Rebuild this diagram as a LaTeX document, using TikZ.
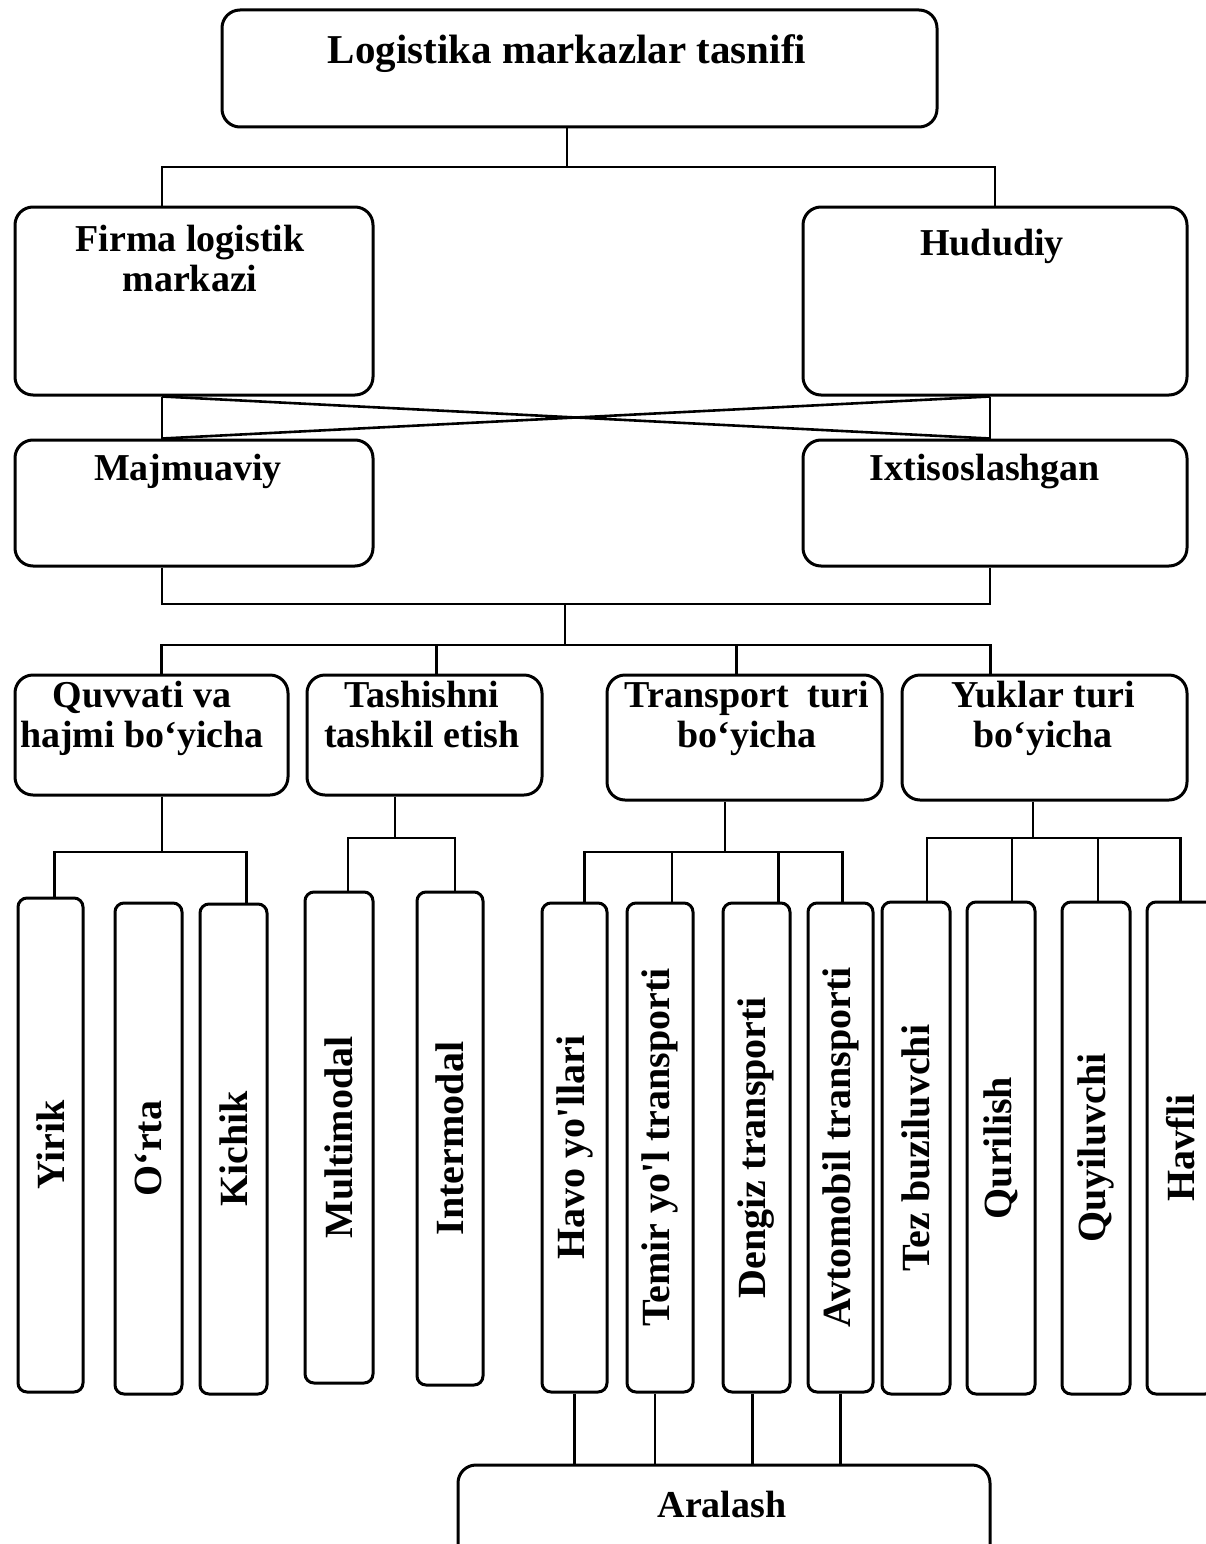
\documentclass[tikz,border=0pt]{standalone}
\usepackage{fontspec}
\setmainfont{Liberation Serif}
\usepackage{tikz}

\begin{document}
\begin{tikzpicture}[x=1pt,y=-1pt,
    box/.style={draw,line width=3pt,rounded corners=18pt,inner sep=0pt},
    col/.style={draw,line width=3pt,rounded corners=9pt,inner sep=0pt},
    txt/.style={font=\bfseries\fontsize{38}{40}\selectfont,align=center,anchor=base,inner sep=0pt},
    vtxt/.style={font=\bfseries\fontsize{40}{44}\selectfont,rotate=90,inner sep=0pt},
    link/.style={line width=2.6pt}]
    \useasboundingbox (0,0) rectangle (1206,1544);
    % katta bloklar
    \node[box,minimum width=715,minimum height=117] (top) at (579.5,68.5) {};
    \node[box,minimum width=358,minimum height=188] (firma) at (194,301) {};
    \node[box,minimum width=384,minimum height=188] (hudud) at (995,301) {};
    \node[box,minimum width=358,minimum height=126] (majm) at (194,503) {};
    \node[box,minimum width=384,minimum height=126] (ixt) at (995,503) {};
    \node[box,minimum width=273,minimum height=120] (quvv) at (151.5,735) {};
    \node[box,minimum width=235,minimum height=120] (tash) at (424.5,735) {};
    \node[box,minimum width=275,minimum height=125] (trans) at (744.5,737.5) {};
    \node[box,minimum width=285,minimum height=125] (yuk) at (1044.5,737.5) {};
    \node[box,minimum width=532,minimum height=105] (aral) at (724,1517.5) {};
    \node[txt,font=\bfseries\fontsize{41}{44}\selectfont] at (567,64) {Logistika markazlar tasnifi};
    \node[txt] at (190,291) {Firma logistik\\markazi};
    \node[txt] at (992,255) {Hududiy};
    \node[txt] at (188,480) {Majmuaviy};
    \node[txt] at (985,480) {Ixtisoslashgan};
    \node[txt] at (142,747) {Quvvati va\\hajmi bo‘yicha};
    \node[txt] at (422,747) {Tashishni\\tashkil etish};
    \node[txt] at (747,747) {Transport\ \ turi\\bo‘yicha};
    \node[txt] at (1043,747) {Yuklar turi\\bo‘yicha};
    \node[txt] at (722,1517) {Aralash};
    % tik ustunlar
    \foreach \n/\xa/\xb/\ya/\yb/\t in {yirik/18/83/898/1392/Yirik,orta/115/182/903/1394/O‘rta,
        kichik/200/267/904/1394/Kichik,multi/305/373/892/1383/Multimodal,inter/417/483/892/1385/Intermodal,
        havo/542/607/903/1392/Havo yo\textquotesingle llari,temir/627/693/903/1392/Temir yo\textquotesingle l transporti,
        dengiz/723/790/903/1392/Dengiz transporti,avto/808/873/903/1392/Avtomobil transporti,
        tez/882/950/902/1394/Tez buziluvchi,quril/967/1035/902/1394/Qurilish,
        quyil/1062/1130/902/1394/Quyiluvchi,havfli/1147/1214/902/1394/Havfli}{
            \node[col,minimum width=\xb-\xa,minimum height=\yb-\ya] (\n) at ({(\xa+\xb)/2},{(\ya+\yb)/2}) {};
            \node[vtxt] at (\n) {\t};}
    % bog'lanishlar
    \coordinate (b1) at (567,167); \coordinate (b2) at (565,604); \coordinate (b3) at (565,645);
    \draw[link] (top.south -| b1) -- (b1);
    \draw[link] ([xshift=-32]firma.north) |- (b1) -| (hudud.north);
    \draw[link] ([xshift=-32]firma.south) -- ([xshift=-32]majm.north) ([xshift=-5]hudud.south) -- ([xshift=-5]ixt.north);
    \draw[link] ([xshift=-32]firma.south) -- ([xshift=-5]ixt.north) ([xshift=-5]hudud.south) -- ([xshift=-32]majm.north);
    \draw[link] ([xshift=-32]majm.south) |- (b2) -| ([xshift=-5]ixt.south);
    \draw[link] (b2) -- (b3);
    \draw[link] ([xshift=10]quvv.north) |- (b3) -| ([xshift=-54]yuk.north);
    \draw[link] ([xshift=12]tash.north) -- ([xshift=12]tash.north |- b3);
    \draw[link] ([xshift=-8]trans.north) -- ([xshift=-8]trans.north |- b3);
    \coordinate (c1) at (162,852); \coordinate (c2) at (395,838);
    \coordinate (c3) at (725,852); \coordinate (c4) at (1033,838);
    \draw[link] (quvv.south -| c1) -- (c1);
    \draw[link] ([xshift=4]yirik.north) |- (c1) -| ([xshift=13]kichik.north);
    \draw[link] (tash.south -| c2) -- (c2);
    \draw[link] ([xshift=9]multi.north) |- (c2) -| ([xshift=5]inter.north);
    \draw[link] (trans.south -| c3) -- (c3);
    \draw[link] ([xshift=10]havo.north) |- (c3) -| ([xshift=2]avto.north);
    \foreach \n/\dx in {temir/12,dengiz/22}
        \draw[link] ([xshift=\dx]\n.north) -- ([xshift=\dx]\n.north |- c3);
    \draw[link] (yuk.south -| c4) -- (c4);
    \draw[link] ([xshift=11]tez.north) |- (c4) -| (havfli.north);
    \foreach \n/\dx in {quril/11,quyil/2}
        \draw[link] ([xshift=\dx]\n.north) -- ([xshift=\dx]\n.north |- c4);
    \foreach \n/\dx in {havo/0,temir/-5,dengiz/-4,avto/0}
        \draw[link] ([xshift=\dx]\n.south) -- ([xshift=\dx]\n.south |- aral.north);
\end{tikzpicture}
\end{document}
